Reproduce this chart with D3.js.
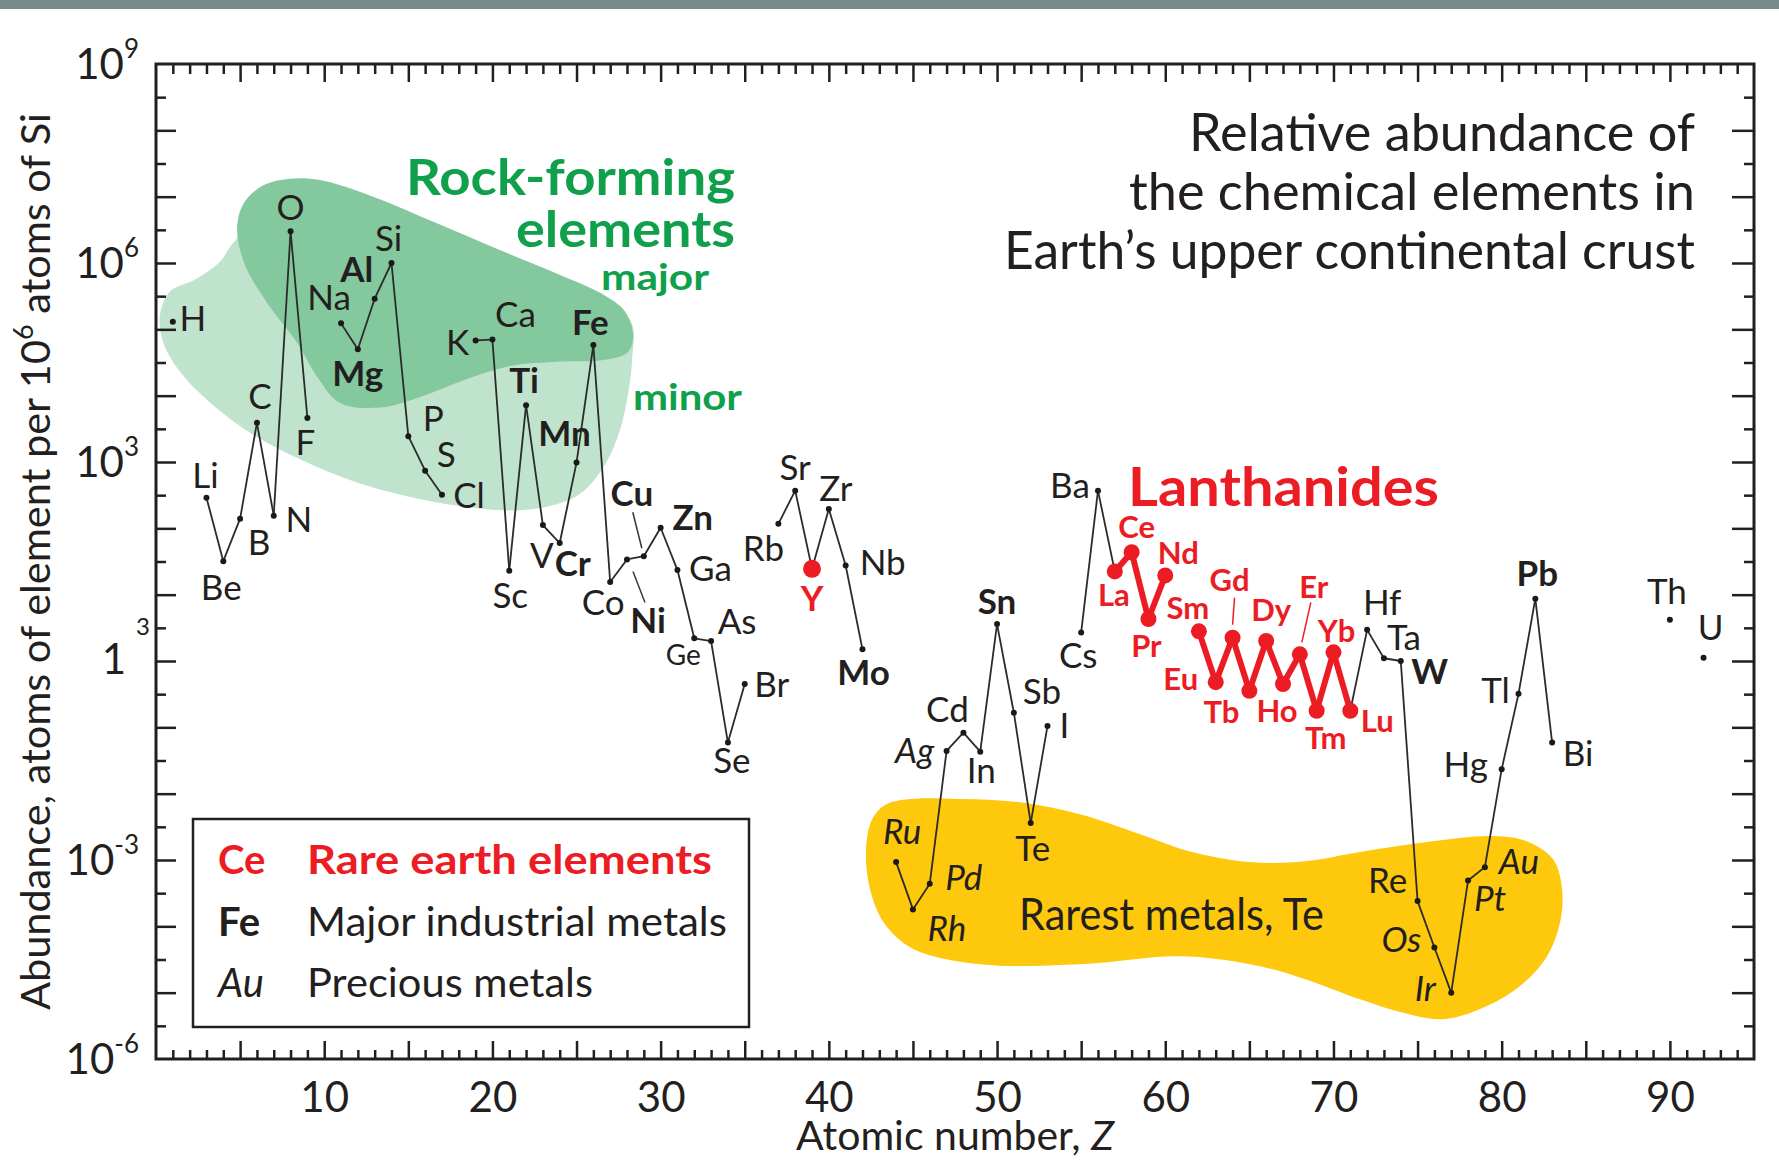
<!DOCTYPE html>
<html>
<head>
<meta charset="utf-8">
<title>Relative abundance of the chemical elements in Earth's upper continental crust</title>
<script src="https://cdn.jsdelivr.net/npm/d3@7"></script>
<style>
  html, body { margin: 0; padding: 0; background: #fff; }
  svg { display: block; }
  text { font-family: Lato, 'Liberation Sans', sans-serif; fill: #231f20; }
</style>
</head>
<body>
<div id="chart"></div>
<script>
// Abundance in atoms per 10^6 atoms of Si
const symbols = ['H','Li','Be','B','C','N','O','F','Na','Mg','Al','Si','P','S','Cl',
  'K','Ca','Sc','Ti','V','Cr','Mn','Fe','Co','Ni','Cu','Zn','Ga','Ge','As','Se','Br',
  'Rb','Sr','Y','Zr','Nb','Mo','Ru','Rh','Pd','Ag','Cd','In','Sn','Sb','Te','I',
  'Cs','Ba','La','Ce','Pr','Nd','Sm','Eu','Gd','Tb','Dy','Ho','Er','Tm','Yb','Lu',
  'Hf','Ta','W','Re','Os','Ir','Pt','Au','Hg','Tl','Pb','Bi','Th','U'];
const atomicNumbers = [1,3,4,5,6,7,8,9,11,12,13,14,15,16,17,
  19,20,21,22,23,24,25,26,27,28,29,30,31,32,33,34,35,
  37,38,39,40,41,42,44,45,46,47,48,49,50,51,52,53,
  55,56,57,58,59,60,62,63,64,65,66,67,68,69,70,71,
  72,73,74,75,76,77,78,79,80,81,82,83,90,92];
const abundance = [1.3e5, 290, 32, 140, 3900, 155, 3.0e6, 4600, 1.23e5, 5.0e4, 2.9e5, 1.0e6, 2450, 740, 320,
  6.8e4, 7.0e4, 23, 7200, 112, 60, 980, 5.8e4, 15.5, 34, 38, 102, 23.5, 2.2, 2.0, 0.059, 0.45,
  117, 370, 24.5, 195, 27.5, 1.5, 9.3e-4, 1.8e-4, 4.4e-4, 0.044, 0.083, 0.043, 3.6, 0.166, 3.6e-3, 0.105,
  2.7, 370, 22.4, 43.6, 4.3, 19.5, 2.8, 0.48, 2.24, 0.355, 2.0, 0.45, 1.26, 0.178, 1.35, 0.178,
  2.95, 1.1, 1.0, 2.4e-4, 4.8e-5, 1.0e-5, 4.9e-4, 7.8e-4, 0.0234, 0.32, 8.7, 0.059, 4.2, 1.12];

// element groups
const rareEarths = ['Y','La','Ce','Pr','Nd','Sm','Eu','Gd','Tb','Dy','Ho','Er','Tm','Yb','Lu'];
const lanthanides = rareEarths.slice(1);
const majorMetals = ['Mg','Al','Ti','Cr','Mn','Fe','Ni','Cu','Zn','Mo','Sn','W','Pb'];
const preciousMetals = ['Ru','Rh','Pd','Ag','Os','Ir','Pt','Au'];

// axis ticks
const xTickLabels = [10, 20, 30, 40, 50, 60, 70, 80, 90];
const yTickExponents = [9, 6, 3, 0, -3, -6];

// outlines of the shaded groups, as [Z, log10 abundance]
const rockMinorOutline = [[4.58,6.30],[3.80,6.02],[2.32,5.75],[0.83,5.57],[0.24,5.22],[0.42,4.81],
  [1.43,4.36],[3.03,3.94],[5.59,3.44],[8.56,3.04],[11.95,2.69],[15.87,2.43],[18.85,2.31],
  [21.11,2.27],[23.31,2.33],[25.21,2.52],[26.69,2.96],[27.59,3.49],[28.06,4.02],[28.30,4.54],
  [28.18,5.14],[24.02,5.75],[14.51,6.50],[7.37,6.95]];
const rockMajorOutline = [[4.82,6.50],[5.17,6.88],[6.30,7.16],[7.97,7.27],[9.75,7.25],[12.90,7.00],
  [16.88,6.58],[20.87,6.15],[24.02,5.82],[26.40,5.55],[27.88,5.27],[28.36,4.92],[28.06,4.66],
  [26.69,4.54],[23.78,4.51],[21.11,4.45],[18.37,4.24],[15.70,3.98],[13.32,3.82],[10.94,3.89],
  [9.57,4.29],[8.38,4.80],[6.60,5.40],[5.29,5.97]];
const rarestOutline = [[42.21,-2.84],[42.57,-2.39],[43.34,-2.17],[44.83,-2.08],[47.80,-2.08],
  [51.37,-2.13],[54.93,-2.31],[58.50,-2.61],[61.47,-2.87],[65.04,-3.03],[68.31,-3.02],[71.58,-2.88],
  [75.56,-2.73],[79.49,-2.64],[81.51,-2.72],[83.06,-2.99],[83.59,-3.44],[83.47,-3.94],[82.70,-4.45],
  [81.09,-4.90],[79.13,-5.20],[76.52,-5.40],[73.96,-5.29],[71.58,-5.10],[68.01,-4.77],[65.04,-4.57],
  [60.88,-4.45],[54.93,-4.57],[48.99,-4.57],[45.01,-4.34],[43.34,-3.97],[42.45,-3.44]];

const titleLines = ['Relative abundance of', 'the chemical elements in', 'Earth\u2019s upper continental crust'];
const legendSymbols = ['Ce', 'Fe', 'Au'];
const legendTexts = ['Rare earth elements', 'Major industrial metals', 'Precious metals'];

// label placement relative to each point: [dx, baseline dy]
const labelOffset = {
  H:[20,9], Li:[-1,-10], Be:[-2,39], B:[19,36], C:[3,-14], N:[25,16], O:[0,-11], F:[-2,37],
  Na:[-12,-13], Mg:[0,37], Al:[-18,-17], Si:[-3,-12], P:[25,-5], S:[21,-4], Cl:[27,13],
  K:[-18,15], Ca:[23,-13], Sc:[1,37], Ti:[-2,-12], V:[-1,43], Cr:[13,33], Mn:[-12,-17], Fe:[-3,-10],
  Co:[-7,33], Ni:[21,74], Cu:[-12,-50], Zn:[32,2], Ga:[33,11], Ge:[-11,27], As:[26,-7], Se:[4,30],
  Br:[27,13], Rb:[-15,37], Sr:[0,-11], Y:[0,42], Zr:[7,-8], Nb:[37,9], Mo:[1,36],
  Ru:[6,-18], Rh:[34,32], Pd:[34,6], Ag:[-32,12], Cd:[-16,-11], In:[1,31], Sn:[0,-10], Sb:[28,-9],
  Te:[2,38], I:[17,12], Cs:[-3,36], Ba:[-28,7], La:[-1,35], Ce:[5,-14], Pr:[-2,38], Nd:[13,-11],
  Sm:[-11,-12], Eu:[-35,8], Gd:[-3,-47], Tb:[-28,32], Dy:[5,-20], Ho:[-6,38], Er:[14,-56],
  Tm:[9,38], Yb:[3,-10], Lu:[27,21], Hf:[15,-15], Ta:[20,-8], W:[29,23], Re:[-30,-8], Os:[-33,5],
  Ir:[-26,8], Pt:[22,30], Au:[34,7], Hg:[-36,8], Tl:[-23,9], Pb:[2,-13], Bi:[26,23], Th:[-3,-16], U:[7,-18]
};
// short leader lines from label to point
const leaders = { Cu:[[-11,-44],[-2,-8]], Ni:[[6,12],[18,43]], Gd:[[2,-40],[0,-13]], Er:[[11,-52],[2,-12]] };

const W = 1779, H = 1167;
const ink = '#231f20', red = '#ec1c24', green = '#10a04c';
const plotLeft = 156, plotRight = 1754, plotTop = 64, plotBottom = 1059;

const svg = d3.select('#chart').append('svg').attr('width', W).attr('height', H);

// grey band along the top edge
svg.append('rect').attr('width', W).attr('height', 9).attr('fill', '#778b8b');

const x = d3.scaleLinear().domain([0, 95]).range([plotLeft, plotRight]);
const y = d3.scaleLog().domain([1e-6, 1e9]).range([plotBottom, plotTop]);
const yLog = v => y(Math.pow(10, v));

// shaded groups
const blob = d3.line().x(d => x(d[0])).y(d => yLog(d[1])).curve(d3.curveCatmullRomClosed.alpha(0.5));
svg.append('path').attr('d', blob(rockMinorOutline)).attr('fill', '#bfe3cc');
svg.append('path').attr('d', blob(rockMajorOutline)).attr('fill', '#84c89d');
svg.append('path').attr('d', blob(rarestOutline)).attr('fill', '#fec80c');

// axes, ticks pointing inward on all four sides
function tidy(g) {
  g.attr('font-size', null).attr('font-family', null);
  g.select('.domain').remove();
  g.selectAll('line').attr('stroke', ink).attr('stroke-width', 2.5);
}
const zMinor = d3.range(1, 95).filter(z => z % 5);
const zMajor = d3.range(5, 95, 5);
const decades = d3.range(-5, 9).map(e => Math.pow(10, e));
const halves = d3.range(-6, 9).map(e => Math.pow(10, e + 0.5));

svg.append('g').attr('transform', `translate(0,${plotBottom})`)
  .call(d3.axisBottom(x).tickValues(zMinor).tickSize(-9).tickFormat('')).call(tidy);
svg.append('g').attr('transform', `translate(0,${plotBottom})`)
  .call(d3.axisBottom(x).tickValues(xTickLabels).tickSize(-18).tickPadding(23))
  .call(tidy)
  .selectAll('text').attr('font-size', 42).attr('fill', ink);
svg.append('g').attr('transform', `translate(0,${plotBottom})`)
  .call(d3.axisBottom(x).tickValues(zMajor.filter(z => z % 10)).tickSize(-18).tickFormat('')).call(tidy);
svg.append('g').attr('transform', `translate(0,${plotTop})`)
  .call(d3.axisTop(x).tickValues(zMinor).tickSize(-10).tickFormat('')).call(tidy);
svg.append('g').attr('transform', `translate(0,${plotTop})`)
  .call(d3.axisTop(x).tickValues(zMajor).tickSize(-18).tickFormat('')).call(tidy);
svg.append('g').attr('transform', `translate(${plotLeft},0)`)
  .call(d3.axisLeft(y).tickValues(decades).tickSize(-20).tickFormat('')).call(tidy);
svg.append('g').attr('transform', `translate(${plotLeft},0)`)
  .call(d3.axisLeft(y).tickValues(halves).tickSize(-10).tickFormat('')).call(tidy);
svg.append('g').attr('transform', `translate(${plotRight},0)`)
  .call(d3.axisRight(y).tickValues(decades).tickSize(-22).tickFormat('')).call(tidy);
svg.append('g').attr('transform', `translate(${plotRight},0)`)
  .call(d3.axisRight(y).tickValues(halves).tickSize(-10).tickFormat('')).call(tidy);

svg.append('rect')
  .attr('x', plotLeft).attr('y', plotTop).attr('width', plotRight - plotLeft).attr('height', plotBottom - plotTop)
  .attr('fill', 'none').attr('stroke', ink).attr('stroke-width', 3);

// y tick labels, 10 with a superscript exponent
yTickExponents.forEach(e => {
  const ty = y(Math.pow(10, e));
  if (e === 0) {
    svg.append('text').attr('x', 126).attr('y', ty + 13).attr('text-anchor', 'end')
      .attr('font-size', 42).text('1');
    svg.append('text').attr('x', 136).attr('y', ty - 26).attr('font-size', 24).text('3');
    return;
  }
  const t = svg.append('text').attr('x', 139).attr('y', ty + 15).attr('text-anchor', 'end').attr('font-size', 42);
  t.append('tspan').text('10');
  t.append('tspan').attr('dy', -21).attr('font-size', 26).text(e < 0 ? '-' + (-e) : e);
});

// axis titles
const xTitle = svg.append('text').attr('x', (plotLeft + plotRight) / 2).attr('y', 1150)
  .attr('text-anchor', 'middle').attr('font-size', 41);
xTitle.append('tspan').text('Atomic number, ');
xTitle.append('tspan').attr('font-style', 'italic').text('Z');

const yTitle = svg.append('text')
  .attr('transform', `translate(50,${(plotTop + plotBottom) / 2}) rotate(-90)`)
  .attr('text-anchor', 'middle').attr('font-size', 40)
  .attr('textLength', 897).attr('lengthAdjust', 'spacingAndGlyphs');
yTitle.append('tspan').text('Abundance, atoms of element per 10');
yTitle.append('tspan').attr('dy', -17).attr('font-size', 26).text('6');
yTitle.append('tspan').attr('dy', 17).text(' atoms of Si');

// data
const points = symbols.map((s, i) => ({ sym: s, z: atomicNumbers[i], v: abundance[i] }));
const isLan = s => lanthanides.includes(s);
const segments = d3.pairs(points).filter(([a, b]) => b.z - a.z === 1);

svg.append('g').selectAll('line').data(segments.filter(([a, b]) => !(isLan(a.sym) && isLan(b.sym))))
  .join('line')
  .attr('x1', d => x(d[0].z)).attr('y1', d => y(d[0].v))
  .attr('x2', d => x(d[1].z)).attr('y2', d => y(d[1].v))
  .attr('stroke', '#2b2b2b').attr('stroke-width', 1.8);

svg.append('g').selectAll('line').data(segments.filter(([a, b]) => isLan(a.sym) && isLan(b.sym)))
  .join('line')
  .attr('x1', d => x(d[0].z)).attr('y1', d => y(d[0].v))
  .attr('x2', d => x(d[1].z)).attr('y2', d => y(d[1].v))
  .attr('stroke', red).attr('stroke-width', 6).attr('stroke-linecap', 'round');

svg.append('g').selectAll('circle').data(points).join('circle')
  .attr('cx', d => x(d.z)).attr('cy', d => y(d.v))
  .attr('r', d => d.sym === 'Y' ? 9 : isLan(d.sym) ? 8 : 3)
  .attr('fill', d => rareEarths.includes(d.sym) ? red : '#1a1a1a');

// leader lines
Object.entries(leaders).forEach(([sym, [[ax, ay], [bx, by]]]) => {
  const p = points.find(d => d.sym === sym);
  svg.append('line')
    .attr('x1', x(p.z) + ax).attr('y1', y(p.v) + ay)
    .attr('x2', x(p.z) + bx).attr('y2', y(p.v) + by)
    .attr('stroke', rareEarths.includes(sym) ? red : '#3a3a3a').attr('stroke-width', 1.5);
});

// element labels
svg.append('g').selectAll('text').data(points).join('text')
  .attr('x', d => x(d.z) + labelOffset[d.sym][0])
  .attr('y', d => y(d.v) + labelOffset[d.sym][1])
  .attr('text-anchor', 'middle')
  .attr('font-size', d => isLan(d.sym) ? 31 : d.sym === 'Ge' ? 28 : 35)
  .attr('font-weight', d => rareEarths.includes(d.sym) || majorMetals.includes(d.sym) ? 'bold' : null)
  .attr('font-style', d => preciousMetals.includes(d.sym) ? 'italic' : null)
  .style('fill', d => rareEarths.includes(d.sym) ? red : ink)
  .text(d => d.sym);

// annotations
function fitted(sel, len) { return sel.attr('textLength', len).attr('lengthAdjust', 'spacingAndGlyphs'); }

fitted(svg.append('text').attr('x', 735).attr('y', 195).attr('text-anchor', 'end')
  .attr('font-size', 50).attr('font-weight', 'bold').style('fill', green).text('Rock-forming'), 329);
fitted(svg.append('text').attr('x', 735).attr('y', 247).attr('text-anchor', 'end')
  .attr('font-size', 50).attr('font-weight', 'bold').style('fill', green).text('elements'), 219);
fitted(svg.append('text').attr('x', 709).attr('y', 290).attr('text-anchor', 'end')
  .attr('font-size', 36).attr('font-weight', 'bold').style('fill', green).text('major'), 108);
fitted(svg.append('text').attr('x', 742).attr('y', 410).attr('text-anchor', 'end')
  .attr('font-size', 36).attr('font-weight', 'bold').style('fill', green).text('minor'), 109);

const titleWidths = [506, 566, 691];
titleLines.forEach((line, i) => {
  fitted(svg.append('text').attr('x', 1695).attr('y', 151 + i * 59).attr('text-anchor', 'end')
    .attr('font-size', 52).text(line), titleWidths[i]);
});

fitted(svg.append('text').attr('x', 1128).attr('y', 506)
  .attr('font-size', 54).attr('font-weight', 'bold').style('fill', red).text('Lanthanides'), 311);

fitted(svg.append('text').attr('x', 1019).attr('y', 930)
  .attr('font-size', 44).text('Rarest metals, Te'), 305);

// legend
svg.append('rect').attr('x', 193).attr('y', 819).attr('width', 556).attr('height', 208)
  .attr('fill', 'none').attr('stroke', ink).attr('stroke-width', 2.5);
const legendWidths = [405, 420, 286];
legendSymbols.forEach((sym, i) => {
  const by = 874 + i * 61.5;
  const s = svg.append('text').attr('x', 218).attr('y', by).attr('font-size', 40).text(sym);
  const t = svg.append('text').attr('x', 307).attr('y', by).attr('font-size', 40).text(legendTexts[i]);
  if (i === 0) {
    s.attr('font-weight', 'bold').style('fill', red);
    t.attr('font-weight', 'bold').style('fill', red);
  } else if (i === 1) {
    s.attr('font-weight', 'bold');
  } else {
    s.attr('font-style', 'italic');
  }
  fitted(t, legendWidths[i]);
});
</script>
</body>
</html>
